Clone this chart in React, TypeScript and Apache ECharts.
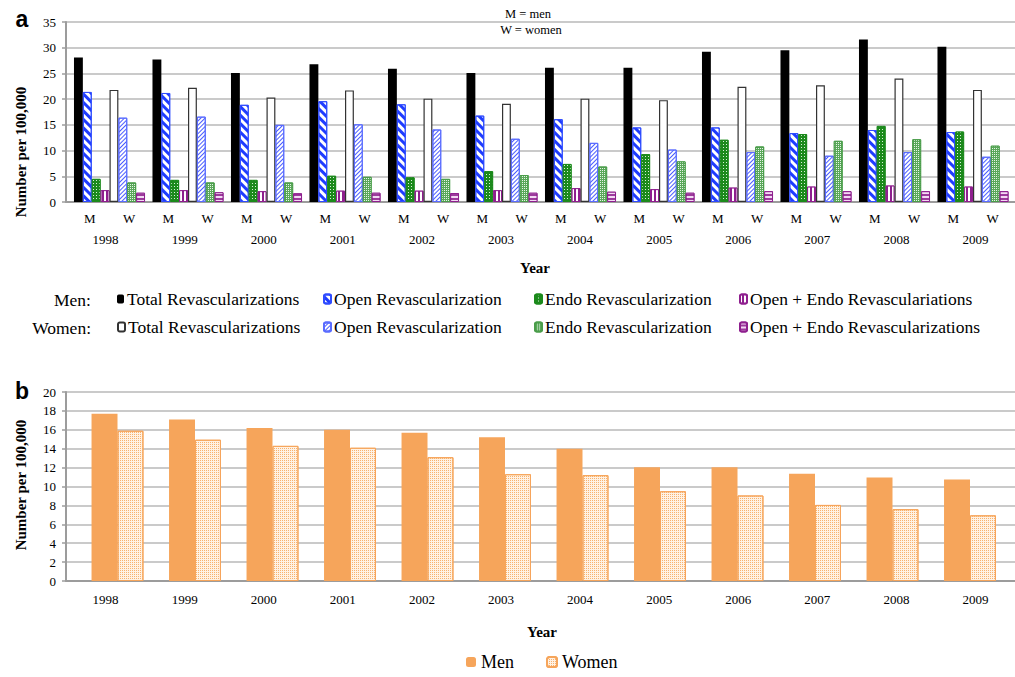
import React, { useEffect, useRef } from "react";
import * as echarts from "echarts";

// ---------- data ----------
const years = ["1998", "1999", "2000", "2001", "2002", "2003", "2004", "2005", "2006", "2007", "2008", "2009"];
const sexCodes = ["M", "W"];

// Panel a (number per 100,000)
const menTotal = [28.1, 27.7, 25.1, 26.8, 25.9, 25.1, 26.1, 26.1, 29.2, 29.5, 31.6, 30.2];
const menOpen = [21.4, 21.2, 18.9, 19.6, 19.0, 16.8, 16.1, 14.5, 14.5, 13.4, 14.0, 13.6];
const menEndo = [4.5, 4.3, 4.3, 5.1, 4.8, 6.0, 7.4, 9.3, 12.1, 13.2, 14.8, 13.7];
const menBoth = [2.3, 2.3, 2.1, 2.2, 2.2, 2.3, 2.7, 2.5, 2.8, 3.0, 3.2, 3.0];
const womenTotal = [21.8, 22.2, 20.3, 21.7, 20.1, 19.1, 20.1, 19.8, 22.4, 22.7, 24.0, 21.8];
const womenOpen = [16.4, 16.6, 15.0, 15.1, 14.1, 12.3, 11.5, 10.2, 9.7, 9.0, 9.7, 8.8];
const womenEndo = [3.8, 3.8, 3.8, 4.9, 4.5, 5.25, 6.9, 7.9, 10.8, 11.9, 12.2, 10.95];
const womenBoth = [1.8, 1.9, 1.7, 1.8, 1.75, 1.8, 2.0, 1.8, 2.1, 2.1, 2.1, 2.1];

// Panel b
const menB = [17.7, 17.1, 16.2, 16.0, 15.7, 15.2, 14.0, 12.05, 12.05, 11.35, 10.95, 10.75];
const womenB = [15.9, 14.95, 14.3, 14.1, 13.1, 11.3, 11.2, 9.5, 9.05, 8.05, 7.6, 6.95];

const legendMen = ["Total Revascularizations", "Open Revascularization", "Endo Revascularization", "Open + Endo Revasculariations"];
const legendWomen = ["Total Revascularizations", "Open Revascularization", "Endo Revascularization", "Open + Endo Revascularizations"];

// ---------- styles ----------
const SERIF = "Liberation Serif";
const SANS = "Liberation Sans";
const AXIS = "#9c9c9c";
const GRIDLINE = "#b8b8b8";

const styles: any[] = [
  { color: "#000" },
  {
    color: "#fff", borderColor: "#2f4cff", borderWidth: 1,
    decal: { symbol: "rect", symbolSize: 1, color: "#1f3cff", dashArrayX: [1, 0], dashArrayY: [2.2, 2.4], rotation: Math.PI / 4 },
  },
  {
    color: "#1c8a1c", borderColor: "#1c8a1c", borderWidth: 1,
    decal: { symbol: "rect", symbolSize: 1, color: "#d9f0d9", dashArrayX: [1, 2], dashArrayY: [1, 2] },
  },
  {
    color: "#8e1f8e", borderColor: "#8e1f8e", borderWidth: 1,
    decal: { symbol: "rect", symbolSize: 1, color: "#fff", dashArrayX: [1.5, 2], dashArrayY: [1, 0] },
  },
  { color: "#fff", borderColor: "#333", borderWidth: 1.2 },
  {
    color: "#fff", borderColor: "#5a6cff", borderWidth: 1,
    decal: { symbol: "rect", symbolSize: 1, color: "#4a5cff", dashArrayX: [1, 0], dashArrayY: [1, 1.4], rotation: -Math.PI / 4 },
  },
  {
    color: "#5aa85a", borderColor: "#4a9d4a", borderWidth: 1,
    decal: { symbol: "rect", symbolSize: 1, color: "#e6f4e6", dashArrayX: [1, 1], dashArrayY: [1, 1] },
  },
  {
    color: "#9c3a9c", borderColor: "#8e1f8e", borderWidth: 1,
    decal: { symbol: "rect", symbolSize: 1, color: "#f3d8f3", dashArrayX: [1, 0], dashArrayY: [1.5, 1.5] },
  },
];

const seriesDataA = [menTotal, menOpen, menEndo, menBoth, womenTotal, womenOpen, womenEndo, womenBoth];
const seriesNamesA = [
  ...legendMen.map((n) => "Men " + n),
  ...legendWomen.map((n) => "Women " + n),
];
const displayNamesA = [...legendMen, ...legendWomen];

const ORANGE = "#f6a55b";
const menBStyle = { color: ORANGE };
const womenBStyle = {
  color: "#fff2e4", borderColor: ORANGE, borderWidth: 1,
  decal: { symbol: "rect", symbolSize: 1, color: "#f8b26f", dashArrayX: [1, 1], dashArrayY: [1, 1] },
};

function buildOption(): any {
  const sexLabels = years.flatMap(() => sexCodes);
  const labelStyle = { color: "#000", fontFamily: SERIF, fontSize: 13 };

  const legendLefts = [117, 323, 534, 739];
  const legends: any[] = [];
  seriesNamesA.forEach((name, i) => {
    const row = i < 4 ? 0 : 1;
    legends.push({
      data: [name],
      left: legendLefts[i % 4],
      top: row === 0 ? 290 : 318,
      itemWidth: 7,
      itemHeight: 9,
      itemGap: 0,
      padding: 0,
      selectedMode: false,
      formatter: () => displayNamesA[i],
      textStyle: { fontFamily: SERIF, fontSize: 17.5, color: "#000", padding: [0, 0, 0, -2] },
    });
  });
  legends.push({
    data: ["Men"], left: 466, top: 653, itemWidth: 10, itemHeight: 10, padding: 0, selectedMode: false,
    textStyle: { fontFamily: SERIF, fontSize: 18, color: "#000" },
  });
  legends.push({
    data: ["Women"], left: 546, top: 653, itemWidth: 10, itemHeight: 10, padding: 0, selectedMode: false,
    textStyle: { fontFamily: SERIF, fontSize: 18, color: "#000" },
  });

  const visibleX = (gridIndex: number, margin: number) => ({
    gridIndex, type: "category", data: years, position: "bottom",
    axisLine: { lineStyle: { color: AXIS, width: 2 } },
    axisTick: { length: 5, lineStyle: { color: AXIS, width: 1.5 } },
    axisLabel: { ...labelStyle, margin },
    splitLine: { show: false },
  });
  const visibleY = (gridIndex: number, max: number, interval: number) => ({
    gridIndex, type: "value", min: 0, max, interval,
    axisLine: { show: true, lineStyle: { color: AXIS, width: 2 } },
    axisTick: { show: true, length: 4, lineStyle: { color: AXIS, width: 1.5 } },
    axisLabel: { ...labelStyle, margin: 10 },
    splitLine: { show: true, lineStyle: { color: GRIDLINE, width: 1.6 } },
  });
  const hiddenY = (gridIndex: number, max: number) => ({
    gridIndex, type: "value", min: 0, max, show: false, splitLine: { show: false },
  });

  const seriesA = seriesDataA.map((d, i) => ({
    type: "bar", name: seriesNamesA[i], data: d, xAxisIndex: 1, yAxisIndex: 1,
    barGap: "0%", barCategoryGap: "9.5%", itemStyle: styles[i], emphasis: { disabled: true },
  }));
  const seriesB = [
    { type: "bar", name: "Men", data: menB, xAxisIndex: 4, yAxisIndex: 3, barGap: "0%", barCategoryGap: "33%", itemStyle: menBStyle, emphasis: { disabled: true } },
    { type: "bar", name: "Women", data: womenB, xAxisIndex: 4, yAxisIndex: 3, barGap: "0%", barCategoryGap: "33%", itemStyle: womenBStyle, emphasis: { disabled: true } },
  ];

  const txt = (text: string, x: number, y: number, extra: any = {}, styleExtra: any = {}) => ({
    type: "text", x, y, ...extra,
    style: { text, fontFamily: SERIF, fontSize: 13, fill: "#000", align: "center", verticalAlign: "middle", ...styleExtra },
  });

  return {
    animation: false,
    backgroundColor: "#fff",
    grid: [
      { left: 66, right: -2, top: 22, bottom: 475 },
      { left: 70.25, right: 2.75, top: 22, bottom: 475 },
      { left: 66, right: -6, top: 392, bottom: 96 },
      { left: 78.75, right: 6.25, top: 392, bottom: 96 },
    ],
    xAxis: [
      visibleX(0, 31),
      { gridIndex: 1, type: "category", data: years, position: "bottom", show: false },
      {
        gridIndex: 1, type: "category", data: sexLabels, position: "bottom",
        axisLine: { show: false }, axisTick: { show: false }, splitLine: { show: false },
        axisLabel: { ...labelStyle, margin: 10, interval: 0 },
      },
      visibleX(2, 12),
      { gridIndex: 3, type: "category", data: years, position: "bottom", show: false },
    ],
    yAxis: [visibleY(0, 35, 5), hiddenY(1, 35), visibleY(2, 20, 2), hiddenY(3, 20)],
    legend: legends,
    series: [...seriesA, ...seriesB],
    graphic: [
      txt("a", 22, 19, {}, { fontFamily: SANS, fontWeight: "bold", fontSize: 23 }),
      txt("b", 22, 391, {}, { fontFamily: SANS, fontWeight: "bold", fontSize: 23 }),
      txt("M = men", 528, 14, {}, { fontSize: 12.5 }),
      txt("W = women", 531, 30, {}, { fontSize: 12.5 }),
      txt("Number per 100,000", 21, 152, { rotation: Math.PI / 2 }, { fontWeight: "bold", fontSize: 15 }),
      txt("Number per 100,000", 21, 485, { rotation: Math.PI / 2 }, { fontWeight: "bold", fontSize: 15 }),
      txt("Year", 535, 268, {}, { fontWeight: "bold", fontSize: 15 }),
      txt("Year", 542, 632, {}, { fontWeight: "bold", fontSize: 15 }),
      txt("Men:", 91, 300, {}, { fontSize: 17.5, align: "right" }),
      txt("Women:", 91, 328, {}, { fontSize: 17.5, align: "right" }),
    ],
  };
}

export default function App() {
  const ref = useRef<HTMLDivElement>(null);
  useEffect(() => {
    const chart = echarts.init(ref.current!, null, { renderer: "svg" });
    chart.setOption(buildOption());
    return () => chart.dispose();
  }, []);
  return (
    <div
      ref={ref}
      style={{ position: "fixed", left: 0, top: 0, width: 1015, height: 677, background: "#fff" }}
    />
  );
}
